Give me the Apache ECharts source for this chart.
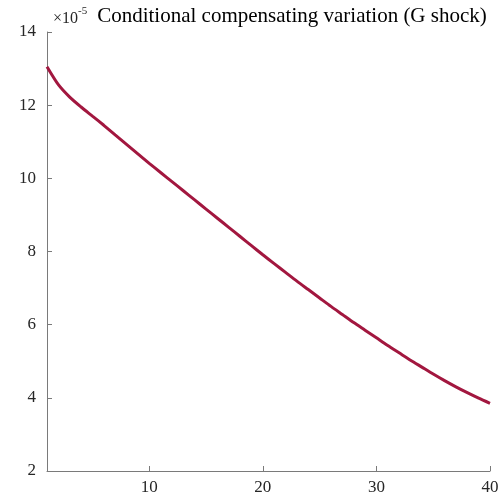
<!DOCTYPE html>
<html><head><meta charset="utf-8">
<script src="https://cdn.jsdelivr.net/npm/echarts@6/dist/echarts.min.js"></script>
<style>html,body{margin:0;padding:0;background:#fff}#c{width:503px;height:499px}</style>
</head><body><div id="c"></div>
<script>
// horizon (quarters)
const periods = Array.from({length: 40}, (_, i) => i + 1);
// conditional compensating variation, in units of 1e-5
const ccv = [13.05, 12.56, 12.22, 11.95, 11.70, 11.45, 11.19, 10.93, 10.67, 10.41,
             10.16, 9.91, 9.66, 9.41, 9.16, 8.91, 8.66, 8.41, 8.16, 7.91,
             7.67, 7.43, 7.19, 6.96, 6.73, 6.50, 6.28, 6.06, 5.85, 5.64,
             5.43, 5.23, 5.03, 4.84, 4.65, 4.47, 4.30, 4.14, 3.99, 3.85];
const xTicks = [10, 20, 30, 40];
const yTicks = [2, 4, 6, 8, 10, 12, 14];
const titleText = 'Conditional compensating variation (G shock)';

const font = '"Liberation Serif", "DejaVu Serif", serif';
const axisCol = '#7a7a7a';
const chart = echarts.init(document.getElementById('c'), null, {renderer: 'canvas'});
chart.setOption({
  animation: false,
  grid: {left: 47, right: 13, top: 32, bottom: 28, containLabel: false},
  xAxis: {
    type: 'value', min: 1, max: 40,
    axisLine: {show: true, lineStyle: {color: axisCol, width: 1}},
    axisTick: {show: true, inside: true, length: 5, customValues: xTicks, lineStyle: {color: axisCol}},
    axisLabel: {customValues: xTicks, color: '#262626', fontFamily: font, fontSize: 17, margin: 8},
    splitLine: {show: false}
  },
  yAxis: {
    type: 'value', min: 2, max: 14, interval: 2,
    axisLine: {show: true, lineStyle: {color: axisCol, width: 1}},
    axisTick: {show: true, inside: true, length: 5, lineStyle: {color: axisCol}},
    axisLabel: {color: '#262626', fontFamily: font, fontSize: 17, margin: 11},
    splitLine: {show: false}
  },
  title: {
    text: '{x|×10}{s|-5}  {t|' + titleText + '}',
    left: 48, top: 1,
    textStyle: {
      fontWeight: 'normal',
      rich: {
        x: {fontFamily: font, fontSize: 16, fontWeight: 'normal', color: '#262626', verticalAlign: 'bottom'},
        s: {fontFamily: font, fontSize: 11, fontWeight: 'normal', color: '#262626', verticalAlign: 'top', padding: [0,0,8,0]},
        t: {fontFamily: font, fontSize: 21, fontWeight: 'normal', color: '#000'}
      }
    }
  },
  series: [{
    type: 'line',
    data: periods.map((p, i) => [p, ccv[i]]),
    showSymbol: false,
    lineStyle: {color: '#a2173f', width: 3},
    smooth: 0.25
  }]
});
</script></body></html>
